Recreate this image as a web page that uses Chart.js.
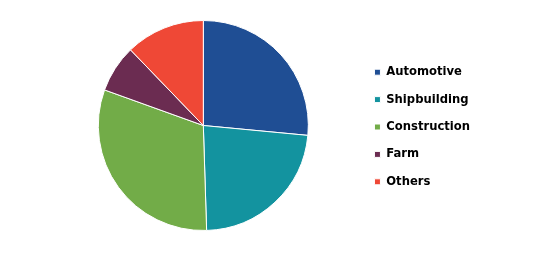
<!DOCTYPE html>
<html><head><meta charset="utf-8">
<script src="https://cdn.jsdelivr.net/npm/chart.js@4"></script>
<style>html,body{margin:0;padding:0;background:#fff}#wrap{width:535px;height:253px}</style>
</head><body><div id="wrap"><canvas id="c" width="535" height="253"></canvas></div>
<script>
const categories = ["Automotive", "Shipbuilding", "Construction", "Farm", "Others"];
const values = [26.5, 23, 31, 7.3, 12.2];
const colors = ["#1f4e94", "#13939f", "#72ac48", "#6b2c51", "#ef4836"];

const legendShift = {
  id: 'legendShift',
  afterLayout(chart) {
    if (chart.legend) { chart.legend.top += 1.5; chart.legend.bottom += 1.5; }
  }
};

new Chart(document.getElementById('c'), {
  type: 'pie',
  data: { labels: categories, datasets: [{ data: values, backgroundColor: colors, borderColor: '#fff', borderWidth: 1 }] },
  options: {
    responsive: false, animation: false,
    layout: { padding: { left: 48, top: 20, bottom: 22, right: 55 } },
    plugins: {
      tooltip: { enabled: false },
      legend: {
        position: 'right',
        labels: { boxWidth: 6, boxHeight: 6, padding: 15.8, color: '#000',
          font: { family: 'DejaVu Sans', size: 11.6, weight: 'bold' } }
      }
    }
  },
  plugins: [legendShift]
});
</script></body></html>
